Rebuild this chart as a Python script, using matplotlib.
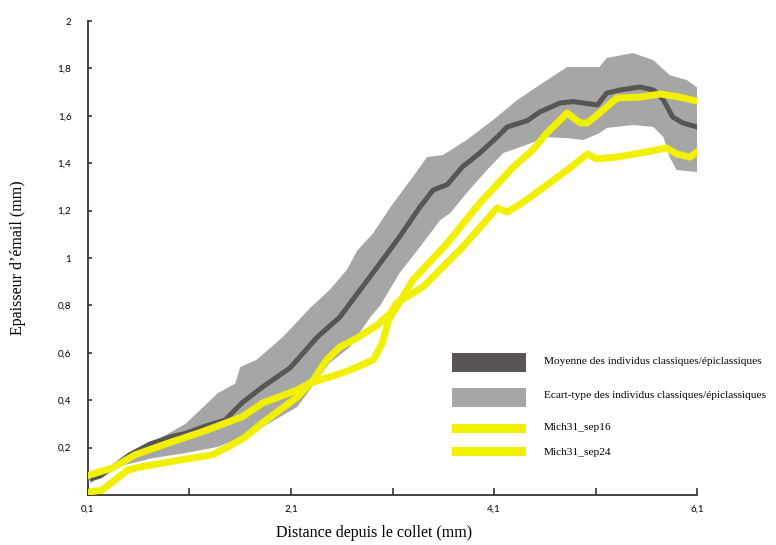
import numpy as np
import matplotlib
matplotlib.use("Agg")
import matplotlib.pyplot as plt
from matplotlib.patches import Rectangle

# mean of classic/epiclassic individuals
dist_mean = [0.14, 0.22, 0.32, 0.51, 0.71, 0.91, 1.06, 1.25, 1.45, 1.55, 1.62, 1.82, 2.09, 2.36,
             2.58, 2.78, 2.95, 3.17, 3.37, 3.50, 3.64, 3.79, 3.96, 4.13, 4.23, 4.43, 4.55, 4.75,
             4.88, 5.12, 5.21, 5.34, 5.54, 5.67, 5.77, 5.86, 5.96, 6.10]
mean_vals = [0.07, 0.08, 0.11, 0.17, 0.215, 0.245, 0.26, 0.29, 0.316, 0.36, 0.39, 0.456, 0.536, 0.667,
             0.75, 0.865, 0.962, 1.09, 1.215, 1.287, 1.31, 1.385, 1.443, 1.51, 1.553, 1.58, 1.616, 1.654,
             1.66, 1.646, 1.696, 1.709, 1.722, 1.709, 1.667, 1.595, 1.57, 1.553]

# standard deviation band, upper edge
dist_sd_hi = [0.12, 0.27, 0.73, 1.06, 1.38, 1.55, 1.60, 1.76, 2.02, 2.29, 2.48, 2.65, 2.75, 2.91,
              3.08, 3.30, 3.44, 3.60, 3.83, 4.09, 4.33, 4.55, 4.82, 5.14, 5.21, 5.47, 5.67, 5.83,
              6.00, 6.10]
sd_hi = [0.09, 0.105, 0.22, 0.30, 0.43, 0.47, 0.54, 0.57, 0.667, 0.79, 0.865, 0.95, 1.03, 1.105,
         1.215, 1.342, 1.426, 1.435, 1.498, 1.582, 1.667, 1.73, 1.806, 1.806, 1.844, 1.865, 1.835, 1.772,
         1.751, 1.72]

# standard deviation band, lower edge
dist_sd_lo = [0.12, 0.40, 0.73, 1.06, 1.38, 1.62, 1.82, 2.16, 2.48, 2.68, 2.88, 2.98, 3.17, 3.37,
              3.57, 3.67, 3.83, 4.03, 4.19, 4.36, 4.62, 4.82, 4.98, 5.14, 5.21, 5.47, 5.67, 5.77,
              5.83, 5.90, 6.10]
sd_lo = [0.05, 0.12, 0.155, 0.177, 0.203, 0.245, 0.287, 0.371, 0.557, 0.624, 0.75, 0.80, 0.937, 1.046,
         1.16, 1.19, 1.274, 1.371, 1.443, 1.468, 1.51, 1.506, 1.498, 1.527, 1.549, 1.561, 1.553, 1.51,
         1.426, 1.371, 1.363]

# Mich31_sep16
dist_sep16 = [0.12, 0.34, 0.56, 0.89, 1.22, 1.62, 1.82, 2.16, 2.29, 2.48, 2.68, 2.91, 3.00, 3.06,
              3.14, 3.30, 3.64, 3.96, 4.29, 4.48, 4.62, 4.82, 4.95, 5.02, 5.14, 5.31, 5.54, 5.74,
              5.93, 6.10]
sep16 = [0.085, 0.114, 0.169, 0.219, 0.266, 0.33, 0.388, 0.443, 0.473, 0.498, 0.527, 0.57, 0.641, 0.738,
         0.793, 0.907, 1.063, 1.232, 1.384, 1.456, 1.527, 1.612, 1.57, 1.57, 1.612, 1.675, 1.679, 1.692,
         1.679, 1.662]

# Mich31_sep24
dist_sep24 = [0.12, 0.24, 0.49, 0.61, 0.73, 1.01, 1.32, 1.48, 1.65, 1.82, 2.16, 2.32, 2.45, 2.58,
              2.75, 2.95, 3.08, 3.14, 3.40, 3.79, 4.13, 4.23, 4.39, 4.62, 4.82, 5.02, 5.11, 5.31,
              5.54, 5.80, 5.90, 6.03, 6.10]
sep24 = [0.013, 0.021, 0.105, 0.118, 0.127, 0.148, 0.169, 0.203, 0.245, 0.305, 0.413, 0.485, 0.57, 0.624,
         0.662, 0.717, 0.768, 0.81, 0.878, 1.046, 1.211, 1.194, 1.236, 1.308, 1.371, 1.439, 1.418, 1.426,
         1.443, 1.464, 1.439, 1.426, 1.447]

x_ticks = [0.1, 1.1, 2.1, 3.1, 4.1, 5.1, 6.1]
x_labels = ['0,1', '', '2,1', '', '4,1', '', '6,1']
y_ticks = [0, 0.2, 0.4, 0.6, 0.8, 1.0, 1.2, 1.4, 1.6, 1.8, 2.0]
y_labels = ['', '0,2', '0,4', '0,6', '0,8', '1', '1,2', '1,4', '1,6', '1,8', '2']

legend_labels = ['Moyenne des individus classiques/épiclassiques',
                 'Ecart-type des individus classiques/épiclassiques',
                 'Mich31_sep16', 'Mich31_sep24']

dark = '#5a5555'
band = '#a7a6a6'
yellow = '#f0f000'

fig = plt.figure(figsize=(7.76, 5.45), dpi=100)
ax = fig.add_axes([0.1134, 0.0917, 0.7848, 0.8697])

# band as a closed polygon (upper edge then lower edge reversed)
ax.fill(np.concatenate([dist_sd_hi, dist_sd_lo[::-1]]),
        np.concatenate([sd_hi, sd_lo[::-1]]),
        color=band, lw=0, zorder=1)
ax.plot(dist_mean, mean_vals, color=dark, lw=3.6, zorder=2, solid_joinstyle='round')
ax.plot(dist_sep16, sep16, color=yellow, lw=5, zorder=3, solid_joinstyle='round')
ax.plot(dist_sep24, sep24, color=yellow, lw=5, zorder=3, solid_joinstyle='round')

ax.set_xlim(0.1, 6.1)
ax.set_ylim(0, 2)
for s in ['top', 'right']:
    ax.spines[s].set_visible(False)
for s in ['left', 'bottom']:
    ax.spines[s].set_color('#333333')
    ax.spines[s].set_linewidth(1.3)

ax.set_xticks(x_ticks)
ax.set_xticklabels(x_labels, fontsize=7, family='Lato')
ax.set_yticks(y_ticks)
ax.set_yticklabels(y_labels, fontsize=7, family='Lato')
ax.tick_params(axis='x', direction='in', length=5, width=1.2, color='#333333', pad=7)
ax.tick_params(axis='y', direction='in', length=3, width=1.2, color='#333333', pad=12)

fig.text(0.482, 0.022, 'Distance depuis le collet (mm)', family='Liberation Serif', fontsize=11.5,
         ha='center', va='center')
fig.text(0.023, 0.528, 'Epaisseur d’émail (mm)', family='Liberation Serif', fontsize=11.5,
         rotation=90, ha='center', va='center')

# hand-drawn legend
rows = [(0.3174, 0.0349, dark), (0.2532, 0.0349, band), (0.2055, 0.0165, yellow), (0.1633, 0.0165, yellow)]
text_y = [0.3358, 0.2752, 0.2147, 0.1706]
for (b, h, c), ty, lab in zip(rows, text_y, legend_labels):
    fig.add_artist(Rectangle((0.5825, b), 0.0954, h, transform=fig.transFigure, color=c, lw=0))
    fig.text(0.701, ty, lab, family='Liberation Serif', fontsize=8.2, va='center', ha='left')

fig.savefig('out.png', dpi=100)
